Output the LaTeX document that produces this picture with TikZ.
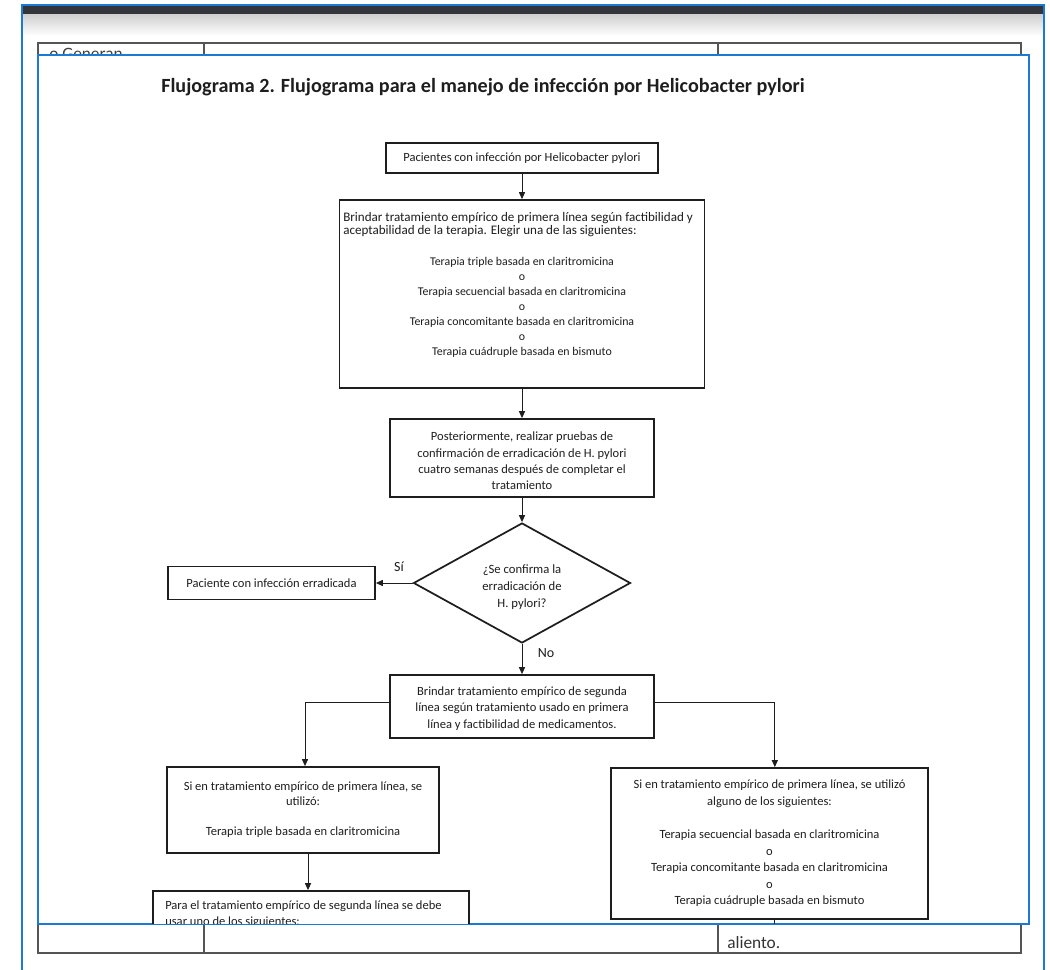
\documentclass[tikz,border=0pt]{standalone}
\usepackage{fontspec}
\setmainfont{Carlito}
\usetikzlibrary{arrows.meta,shapes.geometric}
\definecolor{frameblue}{RGB}{28,122,212}
\definecolor{barcol}{RGB}{50,54,59}
\definecolor{ink}{RGB}{30,30,30}
\definecolor{tablegray}{RGB}{85,85,85}
\begin{document}
\begin{tikzpicture}[x=0.75pt,y=-0.75pt,
  box/.style={draw=ink,line width=1.3pt,fill=white,inner sep=0pt,align=center,
    font=\fontsize{9.4}{12.2}\selectfont,text=ink},
  conn/.style={draw=ink,line width=0.7pt,-{Triangle[length=5.2pt,width=4.5pt]}},
  lbl/.style={font=\fontsize{10.5}{12}\selectfont,text=ink,inner sep=0pt},
  plain/.style={inner sep=0pt,text=ink,font=\fontsize{9.4}{12}\selectfont}]
\useasboundingbox (0,0) rectangle (1050,970);
\fill[white] (0,0) rectangle (1050,970);
% window frame
\fill[barcol] (22,5) rectangle (1044,15);
\shade[top color=black!18,bottom color=white] (22,15) rectangle (1044,36);
\draw[frameblue,line width=1.5pt] (22,980) -- (22,5) -- (1044,5) -- (1044,980);
% background table
\draw[tablegray,line width=1pt] (38,43) rectangle (1021,953);
\draw[tablegray,line width=1pt] (204,43) -- (204,953) (718,43) -- (718,953);
\node[anchor=base west,font=\fontsize{13}{14}\selectfont,text=black!75,inner sep=0pt] (gen) at (49,60) {o Generan};
\node[anchor=base west,font=\fontsize{13}{14}\selectfont,text=black!80,inner sep=0pt] (ali) at (727,948) {aliento.};
% overlay
\draw[frameblue,line width=1.5pt,fill=white] (38,55) rectangle (1029,924);
\begin{scope}
\clip (39,56) rectangle (1028,923);
\node[anchor=base west,font=\bfseries\fontsize{15.1}{16}\selectfont,inner sep=0pt,text=ink] (title) at (161,93)
  {Flujograma 2. Flujograma para el manejo de infección por Helicobacter pylori};
\node[box,minimum width=204pt,minimum height=22.5pt] (b1) at (522,158)
  {Pacientes con infección por Helicobacter pylori};
\node[box,minimum width=273.75pt,minimum height=141pt] (b2) at (522,294) {};
\node[plain,anchor=north west,align=left,font=\fontsize{9.8}{9.75}\selectfont] (t2a) at (343,212)
  {Brindar tratamiento empírico de primera línea según factibilidad y\\aceptabilidad de la terapia. Elegir una de las siguientes:};
\node[plain,anchor=north,align=center,font=\fontsize{8.9}{11.25}\selectfont] (t2b) at (522,257)
  {Terapia triple basada en claritromicina\\o\\Terapia secuencial basada en claritromicina\\o\\Terapia concomitante basada en claritromicina\\o\\Terapia cuádruple basada en bismuto};
\node[box,minimum width=198pt,minimum height=58.5pt] (b3) at (522,458) {};
\node[plain,align=center,font=\fontsize{9.4}{12.2}\selectfont] (t3) at (522,461)
  {Posteriormente, realizar pruebas de\\confirmación de erradicación de H. pylori\\cuatro semanas después de completar el\\tratamiento};
\node[box,diamond,shape aspect=1.8,minimum width=162.75pt,minimum height=90pt] (dia) at (522,583) {};
\node[plain,align=center,font=\fontsize{9.5}{13}\selectfont] (tdia) at (522,587)
  {¿Se confirma la\\erradicación de\\H. pylori?};
\node[box,minimum width=155.25pt,minimum height=24.75pt] (berr) at (271.5,583)
  {Paciente con infección erradicada};
\node[box,minimum width=198pt,minimum height=47.25pt,font=\fontsize{9.4}{12.4}\selectfont] (b4) at (522,706.5) {};
\node[plain,align=center,font=\fontsize{9.4}{12.4}\selectfont] (t4) at (522,708.5)
  {Brindar tratamiento empírico de segunda\\línea según tratamiento usado en primera\\línea y factibilidad de medicamentos.};
\node[box,minimum width=204pt,minimum height=64.5pt,font=\fontsize{9.4}{11.25}\selectfont] (b5) at (303,810)
  {Si en tratamiento empírico de primera línea, se\\utilizó:\\[11.25pt]Terapia triple basada en claritromicina};
\node[box,minimum width=237.75pt,minimum height=113.25pt,font=\fontsize{9.4}{12.4}\selectfont] (b6) at (769.5,843.5)
  {Si en tratamiento empírico de primera línea, se utilizó\\alguno de los siguientes:\\[12.4pt]Terapia secuencial basada en claritromicina\\o\\Terapia concomitante basada en claritromicina\\o\\Terapia cuádruple basada en bismuto};
\node[box,minimum width=237pt,minimum height=66.75pt] (b7) at (311,935.5) {};
\node[plain,anchor=north west,align=left] (t7) at (165,901)
  {Para el tratamiento empírico de segunda línea se debe\\usar uno de los siguientes:};
\node[lbl] (si) at (399,567) {Sí};
\node[lbl] (no) at (546,653) {No};
% connectors
\draw[conn] (b1) -- (b2);
\draw[conn] (b2) -- (b3);
\draw[conn] (b3) -- (dia);
\draw[conn] (dia.west) -- (berr.east);
\draw[conn] (dia.south) -- (b4.north);
\coordinate (l4) at ([yshift=3.4pt]b4.west);
\coordinate (r4) at ([yshift=3.4pt]b4.east);
\coordinate (n5) at ([xshift=1.5pt]b5.north);
\coordinate (n6) at ([xshift=4pt]b6.north);
\draw[conn] (l4) -| (n5);
\draw[conn] (r4) -| (n6);
\coordinate (c5) at ([xshift=3.75pt]b5.south);
\draw[conn] (c5) -- (c5 |- b7.north);
\coordinate (c6) at ([xshift=4pt]b6.south);
\coordinate (c6e) at ([yshift=-10pt]c6);
\draw[ink,line width=0.7pt] (c6) -- (c6e);
\end{scope}
\end{tikzpicture}
\end{document}
